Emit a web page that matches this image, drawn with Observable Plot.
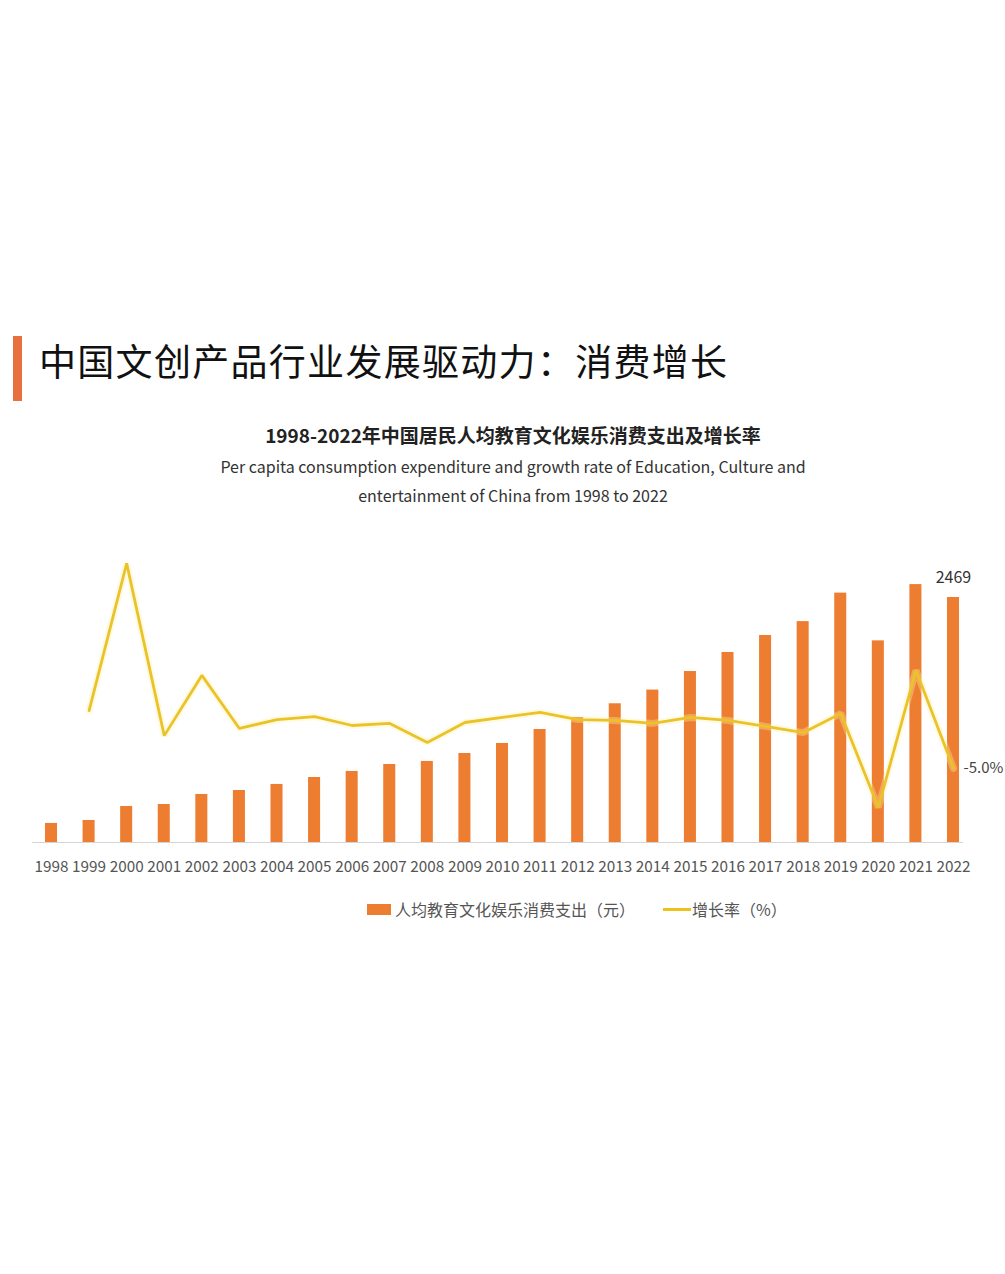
<!DOCTYPE html>
<html>
<head>
<meta charset="utf-8">
<script src="https://cdn.jsdelivr.net/npm/d3@7"></script>
<script src="https://cdn.jsdelivr.net/npm/@observablehq/plot@0.6"></script>
<style>
  html, body { margin: 0; padding: 0; background: #fff; }
  body { width: 1005px; height: 1274px; position: relative; overflow: hidden; font-family: "Noto Sans CJK SC", "Noto Sans", sans-serif; }
  .abs { position: absolute; }
  #accent { left: 13px; top: 336px; width: 9px; height: 65px; background: #E8703F; }
  #title { left: 39px; top: 342px; font-size: 37px; color: #111; line-height: 1; letter-spacing: 1.3px; white-space: nowrap; }
  #ctitle { left: 0; width: 1026px; top: 421px; text-align: center; font-size: 19px; font-weight: bold; color: #222; white-space: nowrap; }
  .sub { left: 0; width: 1026px; text-align: center; font-size: 16px; color: #333; white-space: nowrap; }
  #chart { left: 0; top: 540px; width: 1005px; height: 340px; }
  #chart svg { position: absolute; left: 0; top: 0; overflow: visible; }
  .leg { font-size: 16px; color: #555; white-space: nowrap; line-height: 1; }
  .sw { background: #ED7D31; }
  .ln { background: #EEC21C; }
</style>
</head>
<body>
<div id="accent" class="abs"></div>
<div id="title" class="abs">中国文创产品行业发展驱动力：消费增长</div>
<div id="ctitle" class="abs">1998-2022年中国居民人均教育文化娱乐消费支出及增长率</div>
<div class="abs sub" style="top:454px">Per capita consumption expenditure and growth rate of Education, Culture and</div>
<div class="abs sub" style="top:483px">entertainment of China from 1998 to 2022</div>
<div id="chart" class="abs"></div>
<div class="abs sw" style="left:367px; top:904px; width:24px; height:11px"></div>
<div class="abs leg" style="left:395px; top:901px">人均教育文化娱乐消费支出（元）</div>
<div class="abs ln" style="left:663px; top:908px; width:28px; height:3px"></div>
<div class="abs leg" style="left:692px; top:901px">增长率（%）</div>
<script>
// ---- data ----
const years = ["1998","1999","2000","2001","2002","2003","2004","2005","2006","2007","2008","2009","2010","2011","2012","2013","2014","2015","2016","2017","2018","2019","2020","2021","2022"];
const spending = [192, 222, 363, 383, 484, 524, 585, 655, 716, 786, 817, 897, 998, 1139, 1260, 1398, 1536, 1723, 1915, 2086, 2226, 2513, 2032, 2599, 2469];
const growth = [null, 14.4, 63.8, 6.0, 26.2, 8.4, 11.4, 12.4, 9.4, 10.1, 3.7, 10.4, 12.1, 13.8, 11.4, 11.1, 10.1, 12.1, 11.1, 9.1, 7.0, 13.4, -18.1, 27.9, -5.0];
const barLabelYear = "2022";
const lineLabelYear = "2022";

const barData = years.map((y, i) => ({year: y, value: spending[i]}));
const lineData = years.map((y, i) => ({year: y, rate: growth[i]})).filter(d => d.rate != null);

const W = 1005, H = 340, MB = 38, ML = 32, MR = 42;
const xOpts = {type: "band", domain: years, range: [26.2, 977.8], paddingInner: 0.68, paddingOuter: 0.5, round: false};
const font = "'Noto Sans CJK SC', 'Noto Sans', sans-serif";

const bars = Plot.plot({
  width: W, height: H, marginTop: 0, marginBottom: MB, marginLeft: ML, marginRight: MR,
  style: {background: "transparent", fontFamily: font},
  x: {...xOpts, label: null},
  y: {domain: [0, 2469], range: [H - MB, 57], axis: null},
  marks: [
    Plot.barY(barData, {x: "year", y: "value", fill: "#ED7D31"}),
    Plot.ruleY([0], {stroke: "#d4d4d4", strokeWidth: 1}),
    Plot.axisX({tickSize: 0, tickPadding: 19, fontSize: 15.3, color: "#555", label: null}),
    Plot.text(barData.filter(d => d.year === barLabelYear), {x: "year", y: "value", text: d => String(d.value), dy: -20, fontSize: 16, fill: "#333"})
  ]
});

const line = Plot.plot({
  width: W, height: H, marginTop: 0, marginBottom: MB, marginLeft: ML, marginRight: MR,
  style: {background: "transparent", fontFamily: font},
  x: {...xOpts, axis: null},
  y: {domain: [-20, 65], range: [272.6, 19.3], axis: null},
  marks: [
    Plot.lineY(lineData, {x: "year", y: "rate", stroke: "#FFF0A8", strokeWidth: 7, strokeOpacity: 0.35, strokeLinejoin: "miter"}),
    Plot.lineY(lineData, {x: "year", y: "rate", stroke: "#EAC32A", strokeWidth: 2.8, strokeLinejoin: "miter"}),
    Plot.text(lineData.filter(d => d.year === lineLabelYear), {x: "year", y: "rate", text: d => d.rate.toFixed(1) + "%", textAnchor: "start", dx: 10, fontSize: 15, fill: "#444"})
  ]
});

const chart = document.getElementById("chart");
chart.appendChild(bars);
chart.appendChild(line);
</script>
</body>
</html>
